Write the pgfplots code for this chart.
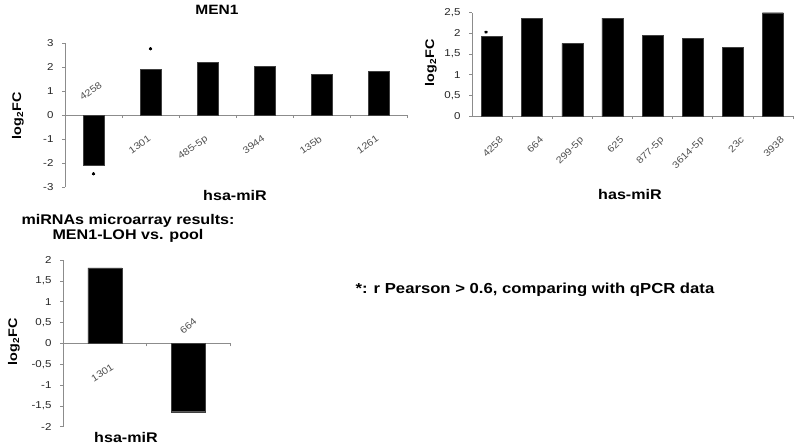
\documentclass[border=0pt]{standalone}
\usepackage{pgfplots}
\pgfplotsset{compat=1.18}
\usepackage{fontspec}
\setmainfont[FakeStretch=1.15]{Liberation Sans}
\definecolor{axgray}{RGB}{140,140,140}
\definecolor{lblgray}{RGB}{80,80,80}
\newcommand{\fs}[1]{\fontsize{#1}{#1}\selectfont}
\pgfplotsset{
  mybar/.style={
    scale only axis,
    anchor=south west,
    axis y line*=left,
    axis x line*=middle,
    axis line style={axgray, line width=0.8pt},
    ybar, bar shift=0pt,
    xtick={0,1,...,10},
    major x tick style={draw=none},
    minor x tick num=0,
    tick style={axgray, line width=0.6pt},
    tick align=outside,
    major tick length=3pt,
    minor tick length=3pt,
    yticklabel style={font=\fs{10}, text=black!85, xshift=-5pt},
    /pgf/number format/assume math mode=true,
    /pgf/number format/use comma,
    clip=false,
  }
}
\begin{document}
\begin{tikzpicture}
\path[use as bounding box] (0pt,0pt) rectangle (800pt,-445pt);

% ---------- Chart 1 : MEN1 ----------
\begin{axis}[mybar,
  at={(65pt,-187pt)}, width=342pt, height=144pt,
  xmin=-0.5, xmax=5.5, ymin=-3, ymax=3,
  ytick={-3,-2,...,3},
  bar width=21pt,
  minor xtick={0.5,1.5,...,5.5},
  xticklabels={,1301,485-5p,3944,135b,1261},
  xticklabel style={font=\fs{9.5}, text=lblgray, yshift=-12pt, xshift=-2pt, rotate=35, anchor=north east},
]
\addplot[fill=black, draw=black!75] coordinates {(0,-2.1) (1,1.9) (2,2.18) (3,2.04) (4,1.7) (5,1.83)};
\addplot[only marks, mark=asterisk, mark size=1.6pt, line width=0.9pt, black] coordinates {(1,2.76) (0,-2.45)};
\node[font=\fs{9.5}, text=lblgray, rotate=35] at (axis cs:-0.05,1.0) {4258};
\end{axis}
\node[font=\bfseries\fs{13.5}] at (217pt,-10pt) {MEN1};
\node[font=\bfseries\fs{14}] at (235pt,-195pt) {hsa-miR};
\node[font=\bfseries\fs{12.5}, rotate=90] at (18pt,-116pt) {log\textsubscript{2}FC};

% ---------- Chart 2 ----------
\begin{axis}[mybar,
  at={(472pt,-116pt)}, width=321pt, height=103.3pt,
  xmin=-0.5, xmax=7.5, ymin=0, ymax=2.5,
  ytick={0,0.5,...,2.5},
  bar width=21pt,
  minor xtick={0.5,1.5,...,7.5},
  xticklabels={4258,664,299-5p,625,877-5p,3614-5p,23c,3938},
  xticklabel style={font=\fs{9.5}, text=lblgray, yshift=-12pt, xshift=7pt, rotate=45, anchor=north east},
]
\addplot[fill=black, draw=black!75] coordinates {(0,1.92) (1,2.37) (2,1.76) (3,2.37) (4,1.96) (5,1.88) (6,1.67) (7,2.5)};
\addplot[only marks, mark=asterisk, mark size=1.6pt, line width=0.9pt, black] coordinates {(-0.15,2.03)};
\end{axis}
\node[font=\bfseries\fs{14}] at (630pt,-194pt) {has-miR};
\node[font=\bfseries\fs{12.5}, rotate=90] at (431pt,-63pt) {log\textsubscript{2}FC};

% ---------- Chart 3 ----------
\begin{axis}[mybar,
  at={(63pt,-426.7pt)}, width=167pt, height=166.7pt,
  xmin=-0.5, xmax=1.5, ymin=-2, ymax=2,
  ytick={-2,-1.5,...,2},
  bar width=34pt,
  minor xtick={0.5,1.5},
  xticklabels={1301,},
  xticklabel style={font=\fs{9.5}, text=lblgray, yshift=-12pt, xshift=7pt, rotate=33, anchor=north east},
]
\addplot[fill=black, draw=black!75] coordinates {(0,1.81) (1,-1.64)};
\node[font=\fs{9.5}, text=lblgray, rotate=40] at (axis cs:1,0.42) {664};
\end{axis}
\node[font=\bfseries\fs{14}, align=center] at (128pt,-228pt) {miRNAs microarray results:\\[1pt]MEN1-LOH vs. pool};
\node[font=\bfseries\fs{14}] at (126pt,-437pt) {hsa-miR};
\node[font=\bfseries\fs{12.5}, rotate=90] at (14pt,-342pt) {log\textsubscript{2}FC};

% ---------- Note ----------
\node[font=\bfseries\fs{14.5}, anchor=west] at (352pt,-290pt) {*: r Pearson > 0.6, comparing with qPCR data};
\end{tikzpicture}
\end{document}
